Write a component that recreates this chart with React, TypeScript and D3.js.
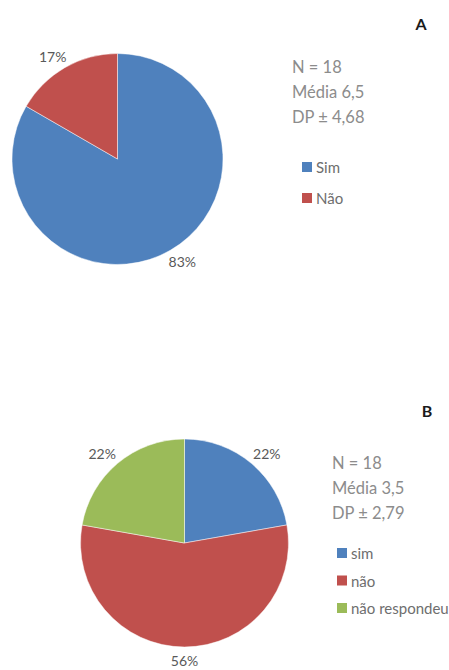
import React from "react";
import * as d3 from "d3";

// Panel A: yes / no answers
const catsA = ["Sim", "Não"];
const valuesA = [15, 3];
const colorsA = ["#4F81BD", "#C0504D"];
const statsA = ["N = 18", "Média 6,5", "DP ± 4,68"];

// Panel B: yes / no / no answer
const catsB = ["sim", "não", "não respondeu"];
const valuesB = [4, 10, 4];
const colorsB = ["#4F81BD", "#C0504D", "#9BBB59"];
const statsB = ["N = 18", "Média 3,5", "DP ± 2,79"];

const W = 449;
const H = 670;
const FONT = "Lato, 'Open Sans', sans-serif";
const LABEL_SIZE = 14;

type PanelProps = {
  cats: string[];
  values: number[];
  colors: string[];
  stats: string[];
  letter: string;
  cx: number;
  cy: number;
  r: number;
  letterX: number;
  letterY: number;
  statsX: number;
  statsY: number;
  legendX: number;
  legendY: number;
  legendStep: number;
};

function Panel(p: PanelProps) {
  const total = d3.sum(p.values);
  const pie = d3.pie<number>().sort(null).value((d) => d);
  const arcs = pie(p.values);
  const arc = d3.arc<d3.PieArcDatum<number>>().innerRadius(0).outerRadius(p.r);
  const pct = d3.format(".0%");
  // labels sit just outside the rim, their box pushed outward along the slice's mid angle
  const gap = 7;

  return (
    <g>
      <g transform={`translate(${p.cx},${p.cy})`}>
        {arcs.map((a, i) => (
          <path
            key={i}
            d={arc(a) || ""}
            fill={p.colors[i]}
            stroke="#ffffff"
            strokeOpacity={0.6}
            strokeWidth={0.8}
          />
        ))}
        {arcs.map((a, i) => {
          const label = pct(a.data / total);
          const mid = (a.startAngle + a.endAngle) / 2;
          const s = Math.sin(mid);
          const c = -Math.cos(mid);
          const halfW = (label.length * LABEL_SIZE * 0.58) / 2;
          const halfH = LABEL_SIZE * 0.45;
          const x = s * (p.r + gap) + halfW * s * 1.4;
          const y = c * (p.r + gap) + halfH * c;
          return (
            <text
              key={i}
              x={x}
              y={y}
              textAnchor="middle"
              dominantBaseline="central"
              fontFamily={FONT}
              fontSize={LABEL_SIZE}
              fill="#595959"
            >
              {label}
            </text>
          );
        })}
      </g>
      <text
        x={p.letterX}
        y={p.letterY}
        textAnchor="middle"
        fontFamily={FONT}
        fontWeight="bold"
        fontSize={16}
        fill="#1a1a1a"
      >
        {p.letter}
      </text>
      {p.stats.map((s, i) => (
        <text
          key={i}
          x={p.statsX}
          y={p.statsY + i * 25}
          fontFamily={FONT}
          fontSize={16.5}
          fill="#8c8c8c"
        >
          {s}
        </text>
      ))}
      {p.cats.map((c, i) => (
        <g key={i} transform={`translate(${p.legendX},${p.legendY + i * p.legendStep})`}>
          <rect x={0} y={-5} width={10} height={10} fill={p.colors[i]} />
          <text x={14} y={0} dominantBaseline="central" fontFamily={FONT} fontSize={15} fill="#6e6e6e">
            {c}
          </text>
        </g>
      ))}
    </g>
  );
}

export default function App() {
  return (
    <svg
      width={W}
      height={H}
      viewBox={`0 0 ${W} ${H}`}
      style={{ position: "absolute", left: 0, top: 0, background: "#ffffff" }}
    >
      <rect width={W} height={H} fill="#ffffff" />
      <Panel
        cats={catsA}
        values={valuesA}
        colors={colorsA}
        stats={statsA}
        letter="A"
        cx={117.5}
        cy={159}
        r={105.5}
        letterX={421}
        letterY={30}
        statsX={292}
        statsY={73}
        legendX={302}
        legendY={167}
        legendStep={31}
      />
      <Panel
        cats={catsB}
        values={valuesB}
        colors={colorsB}
        stats={statsB}
        letter="B"
        cx={184.5}
        cy={543}
        r={104}
        letterX={427}
        letterY={417}
        statsX={332}
        statsY={469}
        legendX={337}
        legendY={553}
        legendStep={27.5}
      />
    </svg>
  );
}
